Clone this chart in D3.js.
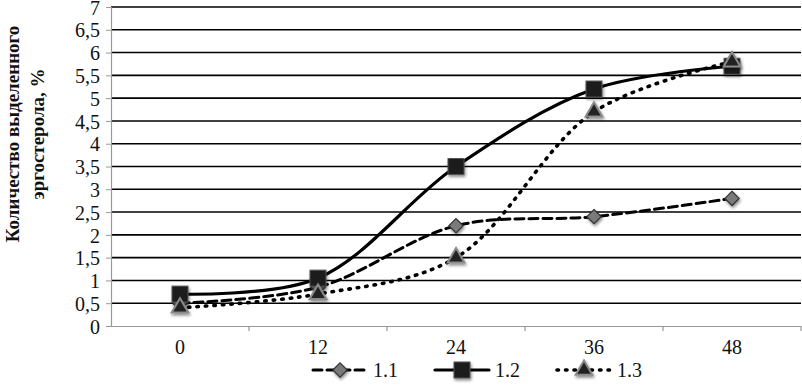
<!DOCTYPE html>
<html>
<head>
<meta charset="utf-8">
<script src="https://cdn.jsdelivr.net/npm/d3@7"></script>
<style>
  body { margin: 0; background: #fff; }
</style>
</head>
<body>
<div id="chart"></div>
<script>
const categories = ['0', '12', '24', '36', '48'];
const yTicks = [0, 0.5, 1, 1.5, 2, 2.5, 3, 3.5, 4, 4.5, 5, 5.5, 6, 6.5, 7];
const series11 = [0.5, 0.85, 2.2, 2.4, 2.8];
const series12 = [0.7, 1.05, 3.5, 5.2, 5.7];
const series13 = [0.4, 0.7, 1.5, 4.7, 5.8];
const seriesNames = ['1.1', '1.2', '1.3'];

const FONT = "Liberation Serif";
const W = 802, H = 388;
const margin = {left: 111, right: 1, top: 7, bottom: 62};

const svg = d3.select('#chart').append('svg')
  .attr('width', W).attr('height', H)
  .style('font-family', FONT);

const defs = svg.append('defs');
const f = defs.append('filter').attr('id', 'shadow')
  .attr('x', '-50%').attr('y', '-50%').attr('width', '200%').attr('height', '200%');
f.append('feDropShadow').attr('dx', 1).attr('dy', 2).attr('stdDeviation', 1.5)
  .attr('flood-color', '#000').attr('flood-opacity', 0.45);

const x = d3.scaleBand().domain(categories)
  .range([margin.left, W - margin.right]);
const y = d3.scaleLinear().domain([0, 7])
  .range([H - margin.bottom, margin.top]);

// gridlines
svg.append('g').selectAll('line').data(yTicks.slice(1)).enter().append('line')
  .attr('x1', margin.left).attr('x2', W - margin.right)
  .attr('y1', d => y(d)).attr('y2', d => y(d))
  .attr('stroke', '#000').attr('stroke-width', 1.6);

// y axis
const yAxis = svg.append('g')
  .attr('transform', `translate(${margin.left},0)`)
  .call(d3.axisLeft(y).tickValues(yTicks).tickSize(5)
    .tickFormat(d => String(d).replace('.', ',')));
yAxis.select('.domain').attr('stroke', '#999').attr('stroke-width', 1.2);
yAxis.selectAll('.tick line').attr('stroke', '#999');
yAxis.selectAll('.tick text').attr('fill', '#111')
  .attr('font-family', FONT).attr('font-size', 20)
  .attr('x', -11).attr('dy', '0.36em');

// x axis
const xAxis = svg.append('g')
  .attr('transform', `translate(0,${y(0)})`)
  .call(d3.axisBottom(x).tickSize(0).tickPadding(14));
xAxis.select('.domain').attr('stroke', '#999').attr('stroke-width', 1.2);
xAxis.selectAll('.tick text').attr('fill', '#111')
  .attr('font-family', FONT).attr('font-size', 20);
svg.append('g').selectAll('line').data(categories).enter().append('line')
  .attr('x1', d => x(d) + x.bandwidth()).attr('x2', d => x(d) + x.bandwidth())
  .attr('y1', y(0)).attr('y2', y(0) + 5)
  .attr('stroke', '#999').attr('stroke-width', 1.2);

// y title
const title = svg.append('text')
  .attr('transform', 'translate(24,134) rotate(-90)')
  .attr('text-anchor', 'middle')
  .attr('font-family', FONT).attr('font-size', 19).attr('font-weight', 'bold')
  .attr('fill', '#111');
title.append('tspan').attr('x', 0).attr('dy', -5).text('Количество выделенного');
title.append('tspan').attr('x', 0).attr('dy', 25).text('эргостерола, %');

const cx = d => x(d) + x.bandwidth() / 2;
const line = d3.line().curve(d3.curveCatmullRom.alpha(0.5))
  .x((d, i) => cx(categories[i])).y(d => y(d));

const styles = [
  {data: series11, dash: '9,5', width: 3, marker: 'diamond'},
  {data: series12, dash: null, width: 3.2, marker: 'square'},
  {data: series13, dash: '1.5,7', width: 3.6, marker: 'triangle'}
];

const drawMarker = (g, type, px, py) => {
  if (type === 'diamond') {
    g.append('path').attr('d', d3.symbol(d3.symbolDiamond2, 130)())
      .attr('transform', `translate(${px},${py})`)
      .attr('fill', '#7a7a7a').attr('stroke', '#333').attr('stroke-width', 1.2)
      .attr('filter', 'url(#shadow)');
  } else if (type === 'square') {
    g.append('rect').attr('x', px - 8).attr('y', py - 8)
      .attr('width', 16).attr('height', 16)
      .attr('fill', '#1c1c1c').attr('stroke', '#555').attr('stroke-width', 1)
      .attr('filter', 'url(#shadow)');
  } else {
    g.append('path').attr('d', d3.symbol(d3.symbolTriangle, 120)())
      .attr('transform', `translate(${px},${py})`)
      .attr('fill', '#222').attr('stroke', '#8a8a8a').attr('stroke-width', 2)
      .attr('filter', 'url(#shadow)');
  }
};

const lines = svg.append('g');
styles.forEach(s => {
  lines.append('path').datum(s.data).attr('d', line)
    .attr('fill', 'none').attr('stroke', '#000')
    .attr('stroke-width', s.width)
    .attr('stroke-linecap', 'round')
    .attr('stroke-dasharray', s.dash);
});
const marks = svg.append('g');
styles.forEach(s => {
  s.data.forEach((v, i) => drawMarker(marks, s.marker, cx(categories[i]), y(v)));
});

// legend
const legendX = [313, 435, 557];
const legend = svg.append('g').attr('transform', 'translate(0,370)');
styles.forEach((s, i) => {
  const lx = legendX[i];
  legend.append('line').attr('x1', lx).attr('x2', lx + 54)
    .attr('y1', 0).attr('y2', 0)
    .attr('stroke', '#000').attr('stroke-width', s.width)
    .attr('stroke-linecap', 'round')
    .attr('stroke-dasharray', s.dash);
  drawMarker(legend, s.marker, lx + 27, 0);
  legend.append('text').attr('x', lx + 60).attr('y', 7)
    .attr('font-family', FONT).attr('font-size', 20)
    .attr('fill', '#111').text(seriesNames[i]);
});
</script>
</body>
</html>
